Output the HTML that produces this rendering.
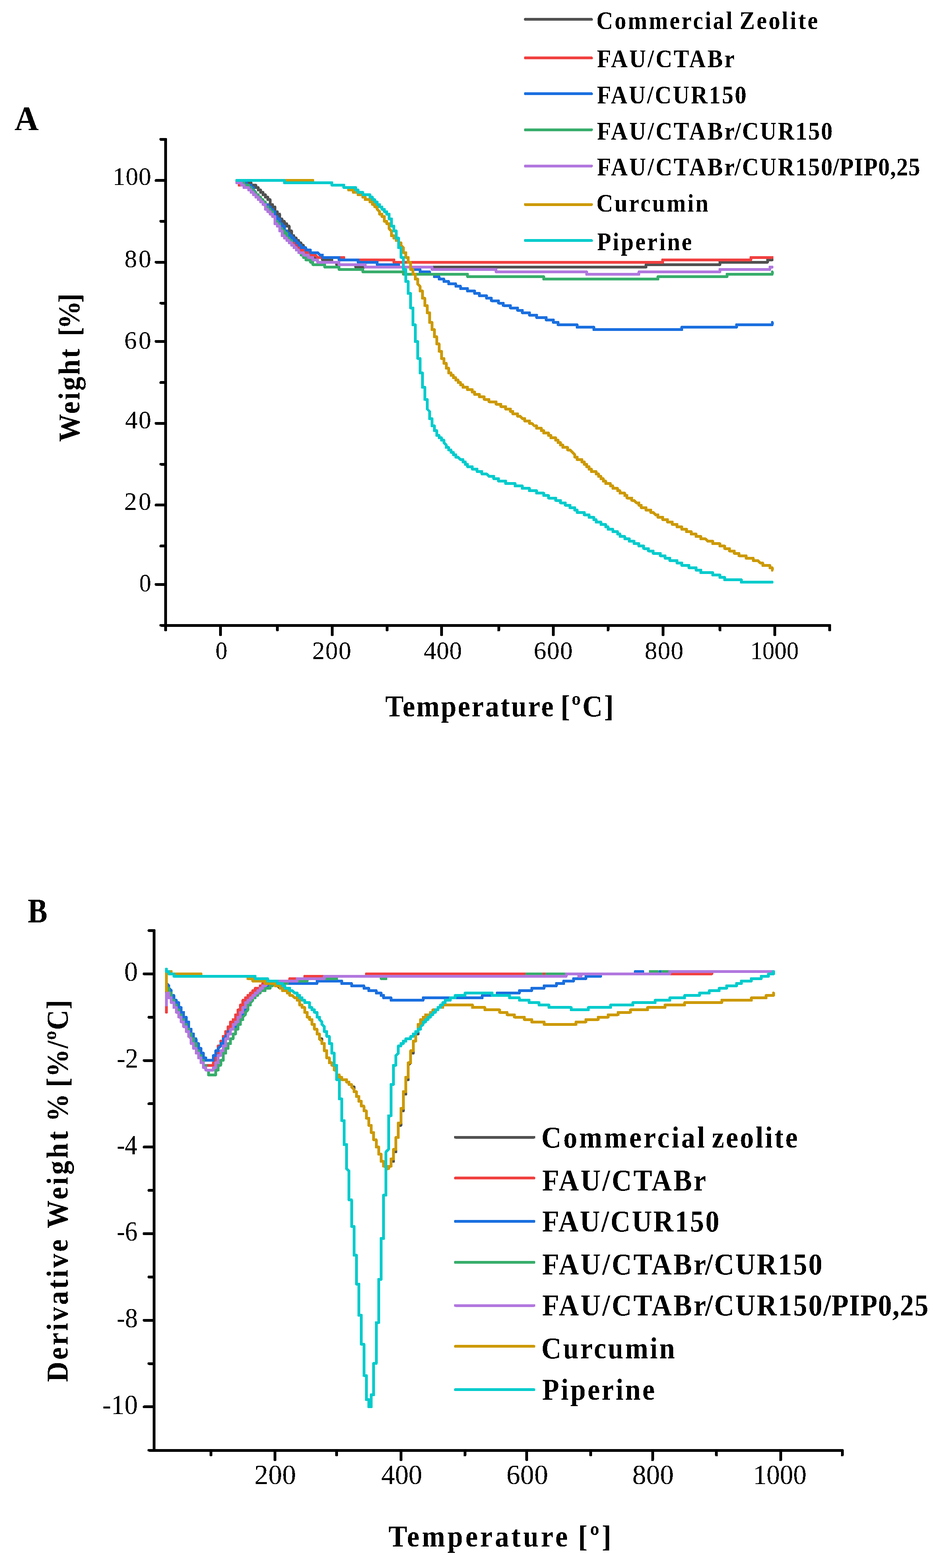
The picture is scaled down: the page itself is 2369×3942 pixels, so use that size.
<!DOCTYPE html>
<html><head><meta charset="utf-8"><title>TGA / DTG curves</title>
<style>html,body{margin:0;padding:0;background:#fff}svg{display:block}text{white-space:pre}</style></head>
<body><svg width="2369" height="3942" viewBox="0 0 2369 3942">
<rect width="2369" height="3942" fill="#fff"/>
<g stroke-width="7" stroke-linecap="round" fill="none" shape-rendering="crispEdges"><path d="M416.5 350.5L416.5 1572" stroke="#000"/><path d="M404.5 1572L2086.5 1572" stroke="#000"/><path d="M392.5 1469.4L416.5 1469.4" stroke="#000"/><path d="M404.5 1372.5L416.5 1372.5" stroke="#000"/><path d="M392.5 1269.6L416.5 1269.6" stroke="#000"/><path d="M404.5 1167L416.5 1167" stroke="#000"/><path d="M392.5 1064.2L416.5 1064.2" stroke="#000"/><path d="M404.5 961.5L416.5 961.5" stroke="#000"/><path d="M392.5 858.3L416.5 858.3" stroke="#000"/><path d="M404.5 762L416.5 762" stroke="#000"/><path d="M392.5 659.1L416.5 659.1" stroke="#000"/><path d="M404.5 556.4L416.5 556.4" stroke="#000"/><path d="M392.5 453.5L416.5 453.5" stroke="#000"/><path d="M404.5 350.4L416.5 350.4" stroke="#000"/><path d="M416.4 1572L416.4 1584" stroke="#000"/><path d="M554.3 1572L554.3 1596" stroke="#000"/><path d="M697.8 1572L697.8 1584" stroke="#000"/><path d="M835.7 1572L835.7 1596" stroke="#000"/><path d="M973.5 1572L973.5 1584" stroke="#000"/><path d="M1110.6 1572L1110.6 1596" stroke="#000"/><path d="M1254.1 1572L1254.1 1584" stroke="#000"/><path d="M1391.6 1572L1391.6 1596" stroke="#000"/><path d="M1529 1572L1529 1584" stroke="#000"/><path d="M1667.3 1572L1667.3 1596" stroke="#000"/><path d="M1810.9 1572L1810.9 1584" stroke="#000"/><path d="M1948.3 1572L1948.3 1596" stroke="#000"/><path d="M2086.5 1572L2086.5 1584" stroke="#000"/><path d="M387.7 2339.55L387.7 3646" stroke="#000"/><path d="M374.7 3646L2118.2 3646" stroke="#000"/><path d="M362.4 3536.9L387.7 3536.9" stroke="#000"/><path d="M374.7 3428.05L387.7 3428.05" stroke="#000"/><path d="M362.4 3319.2L387.7 3319.2" stroke="#000"/><path d="M374.7 3210.35L387.7 3210.35" stroke="#000"/><path d="M362.4 3101.5L387.7 3101.5" stroke="#000"/><path d="M374.7 2992.65L387.7 2992.65" stroke="#000"/><path d="M362.4 2883.8L387.7 2883.8" stroke="#000"/><path d="M374.7 2774.95L387.7 2774.95" stroke="#000"/><path d="M362.4 2666.1L387.7 2666.1" stroke="#000"/><path d="M374.7 2557.25L387.7 2557.25" stroke="#000"/><path d="M362.4 2448.4L387.7 2448.4" stroke="#000"/><path d="M374.7 2339.55L387.7 2339.55" stroke="#000"/><path d="M530.7 3646L530.7 3658" stroke="#000"/><path d="M691.6 3646L691.6 3670" stroke="#000"/><path d="M846.5 3646L846.5 3658" stroke="#000"/><path d="M1008.6 3646L1008.6 3670" stroke="#000"/><path d="M1169.1 3646L1169.1 3658" stroke="#000"/><path d="M1324.8 3646L1324.8 3670" stroke="#000"/><path d="M1485.7 3646L1485.7 3658" stroke="#000"/><path d="M1641 3646L1641 3670" stroke="#000"/><path d="M1801.9 3646L1801.9 3658" stroke="#000"/><path d="M1963.2 3646L1963.2 3670" stroke="#000"/><path d="M2118.2 3646L2118.2 3658" stroke="#000"/></g>
<g stroke-width="7" stroke-linecap="round" stroke-linejoin="round" fill="none" shape-rendering="crispEdges"><polyline points="595.4,453.5 595.4,459.5 631.3,459.5 631.3,465.6 643.3,465.6 643.3,471.6 649.3,471.6 649.3,477.7 655.2,477.7 655.2,483.7 661.2,483.7 661.2,489.8 667.2,489.8 667.2,495.8 673.2,495.8 673.2,501.9 679.2,501.9 679.2,514 685.2,514 685.2,520 691.2,520 691.2,532.1 697.1,532.1 697.1,538.2 703.1,538.2 703.1,550.3 709.1,550.3 709.1,556.3 715.1,556.3 715.1,562.4 721.1,562.4 721.1,568.4 727.1,568.4 727.1,580.5 733.1,580.5 733.1,592.6 739,592.6 739,598.7 745,598.7 745,604.7 751,604.7 751,610.8 757,610.8 757,616.8 763,616.8 763,622.9 769,622.9 769,628.9 775,628.9 775,635 780.9,635 780.9,641 786.9,641 786.9,647.1 810.9,647.1 810.9,653.1 834.8,653.1 834.8,659.2 846.8,659.2 846.8,665.2 894.6,665.2 894.6,671.3 1624.8,671.3 1624.8,665.2 1810.4,665.2 1810.4,659.2 1930.1,659.2 1930.1,653.1 1942,653.1" stroke="#515151"/>
<polyline points="595.4,453.5 595.4,459.5 601.4,459.5 601.4,465.6 613.4,465.6 613.4,471.6 625.3,471.6 625.3,477.7 631.3,477.7 661.2,507.9 667.2,507.9 667.2,520 673.2,520 673.2,526.1 679.2,526.1 679.2,532.1 685.2,532.1 685.2,538.2 691.2,538.2 691.2,556.3 697.1,556.3 697.1,562.4 703.1,562.4 703.1,574.5 709.1,574.5 709.1,580.5 715.1,580.5 715.1,592.6 721.1,592.6 727.1,598.7 733.1,598.7 733.1,604.7 739,604.7 739,610.8 745,610.8 745,616.8 751,616.8 751,622.9 757,622.9 757,628.9 769,628.9 769,635 780.9,635 780.9,641 792.9,641 798.9,647.1 864.7,647.1 864.7,653.1 990.4,653.1 990.4,659.2 1666.7,659.2 1666.7,653.1 1888.2,653.1 1888.2,647.1 1942,647.1" stroke="#F14040"/>
<polyline points="595.4,453.5 601.4,453.5 601.4,459.5 619.3,459.5 619.3,465.6 631.3,465.6 631.3,471.6 637.3,471.6 637.3,477.7 643.3,483.7 643.3,489.8 649.3,489.8 649.3,495.8 655.2,495.8 655.2,501.9 661.2,501.9 661.2,507.9 667.2,507.9 667.2,514 673.2,514 673.2,520 679.2,520 679.2,526.1 685.2,526.1 685.2,532.1 691.2,532.1 691.2,544.2 697.1,544.2 697.1,550.3 703.1,550.3 703.1,562.4 709.1,562.4 709.1,568.4 715.1,568.4 715.1,580.5 721.1,580.5 721.1,586.6 727.1,586.6 727.1,592.6 733.1,592.6 733.1,598.7 739,598.7 739,604.7 745,604.7 745,610.8 751,610.8 751,616.8 757,616.8 757,622.9 769,622.9 769,628.9 780.9,628.9 780.9,635 798.9,635 804.9,641 810.9,641 810.9,647.1 852.8,647.1 852.8,653.1 900.6,653.1 900.6,659.2 948.5,659.2 948.5,665.2 1002.4,665.2 1002.4,671.3 1038.3,671.3 1038.3,677.3 1056.2,677.3 1056.2,683.4 1080.2,683.4 1080.2,689.4 1092.2,689.4 1092.2,695.5 1104.1,695.5 1104.1,701.5 1116.1,701.5 1116.1,707.6 1128.1,707.6 1128.1,713.6 1146,713.6 1146,719.7 1158,719.7 1158,725.7 1175.9,725.7 1175.9,731.8 1193.9,731.8 1193.9,737.8 1205.9,737.8 1205.9,743.9 1223.8,743.9 1223.8,749.9 1235.8,749.9 1235.8,756 1253.8,756 1253.8,762 1265.7,762 1265.7,768 1283.7,768 1283.7,774.1 1301.6,774.1 1301.6,780.1 1313.6,780.1 1313.6,786.2 1331.6,786.2 1331.6,792.2 1349.5,792.2 1349.5,798.3 1373.5,798.3 1373.5,804.3 1391.4,804.3 1391.4,810.4 1403.4,810.4 1403.4,816.4 1451.3,816.4 1451.3,822.5 1493.2,822.5 1493.2,828.5 1714.6,828.5 1714.6,822.5 1852.2,822.5 1852.2,816.4 1942,816.4 1942,810.4" stroke="#1A6FDF"/>
<polyline points="595.4,453.5 601.4,453.5 601.4,459.5 613.4,459.5 613.4,465.6 625.3,465.6 625.3,471.6 631.3,471.6 631.3,477.7 637.3,477.7 637.3,483.7 643.3,483.7 643.3,489.8 649.3,489.8 649.3,495.8 655.2,495.8 655.2,501.9 661.2,501.9 661.2,507.9 667.2,507.9 667.2,520 673.2,520 673.2,526.1 679.2,526.1 679.2,532.1 685.2,532.1 685.2,544.2 691.2,544.2 691.2,556.3 697.1,556.3 697.1,562.4 703.1,562.4 703.1,574.5 709.1,574.5 709.1,580.5 715.1,580.5 715.1,586.6 721.1,586.6 721.1,598.7 727.1,598.7 727.1,604.7 733.1,604.7 733.1,616.8 739,616.8 739,622.9 745,622.9 745,628.9 751,628.9 751,635 757,635 757,641 763,641 763,647.1 769,647.1 769,653.1 780.9,653.1 780.9,659.2 786.9,659.2 786.9,665.2 816.8,665.2 816.8,671.3 852.8,671.3 852.8,677.3 912.6,677.3 912.6,683.4 1014.4,683.4 1014.4,689.4 1175.9,689.4 1175.9,695.5 1367.5,695.5 1367.5,701.5 1654.7,701.5 1654.7,695.5 1828.3,695.5 1828.3,689.4 1942,689.4 1942,683.4" stroke="#37AD6B"/>
<polyline points="595.4,459.5 607.4,459.5 607.4,465.6 613.4,465.6 613.4,471.6 625.3,471.6 625.3,477.7 631.3,477.7 631.3,483.7 637.3,483.7 637.3,489.8 643.3,489.8 643.3,495.8 649.3,495.8 649.3,501.9 655.2,501.9 655.2,507.9 661.2,507.9 661.2,514 667.2,514 667.2,526.1 673.2,526.1 673.2,532.1 679.2,532.1 679.2,538.2 685.2,538.2 685.2,544.2 691.2,544.2 691.2,562.4 697.1,562.4 697.1,568.4 703.1,568.4 703.1,580.5 709.1,580.5 709.1,592.6 715.1,592.6 715.1,598.7 721.1,598.7 721.1,604.7 727.1,604.7 727.1,610.8 733.1,610.8 733.1,616.8 739,616.8 739,622.9 745,622.9 745,628.9 751,628.9 751,635 763,635 763,641 775,641 775,647.1 786.9,647.1 786.9,653.1 798.9,653.1 798.9,659.2 852.8,659.2 852.8,665.2 918.6,665.2 918.6,671.3 1086.2,671.3 1086.2,677.3 1247.8,677.3 1247.8,683.4 1475.2,683.4 1475.2,689.4 1606.9,689.4 1606.9,683.4 1810.4,683.4 1810.4,677.3 1936,677.3 1936,671.3 1942,671.3" stroke="#B177DE"/>
<polyline points="595.4,453.5 786.9,453.5 786.9,459.5 834.8,459.5 834.8,465.6 864.7,465.6 864.7,471.6 876.7,471.6 876.7,477.7 888.7,477.7 888.7,483.7 900.6,483.7 900.6,489.8 912.6,489.8 912.6,495.8 918.6,495.8 918.6,501.9 930.6,501.9 930.6,507.9 936.5,507.9 936.5,514 942.5,514 942.5,520 948.5,520 948.5,526.1 954.5,532.1 954.5,538.2 960.5,538.2 960.5,544.2 966.5,544.2 966.5,556.3 972.5,556.3 972.5,562.4 978.4,562.4 978.4,574.5 984.4,580.5 984.4,592.6 990.4,592.6 990.4,598.7 996.4,598.7 996.4,604.7 1002.4,604.7 1002.4,610.8 1008.4,610.8 1008.4,616.8 1014.4,622.9 1014.4,635 1020.3,635 1020.3,647.1 1026.3,647.1 1026.3,659.2 1032.3,659.2 1032.3,677.3 1038.3,677.3 1038.3,689.4 1044.3,689.4 1044.3,701.5 1050.3,701.5 1050.3,713.6 1056.2,719.7 1056.2,731.8 1062.2,731.8 1062.2,749.9 1068.2,749.9 1068.2,768 1074.2,768 1074.2,786.2 1080.2,786.2 1080.2,810.4 1086.2,810.4 1086.2,828.5 1092.2,828.5 1092.2,846.7 1098.1,846.7 1098.1,864.8 1104.1,864.8 1104.1,883 1110.1,883 1110.1,901.1 1116.1,901.1 1116.1,913.2 1122.1,913.2 1122.1,925.3 1128.1,925.3 1128.1,937.4 1134,937.4 1134,943.5 1140,943.5 1140,949.5 1146,949.5 1146,955.6 1152,955.6 1152,961.6 1158,961.6 1158,967.7 1164,967.7 1164,973.7 1175.9,973.7 1175.9,979.8 1187.9,979.8 1187.9,985.8 1193.9,985.8 1193.9,991.9 1205.9,991.9 1205.9,997.9 1217.8,997.9 1217.8,1004 1229.8,1004 1229.8,1010 1247.8,1010 1247.8,1016.1 1259.7,1016.1 1259.7,1022.1 1271.7,1022.1 1271.7,1028.2 1283.7,1028.2 1283.7,1034.2 1289.7,1034.2 1289.7,1040.3 1301.6,1040.3 1301.6,1046.3 1307.6,1046.3 1313.6,1052.4 1319.6,1052.4 1319.6,1058.4 1331.6,1058.4 1331.6,1064.4 1337.5,1064.4 1343.5,1070.5 1349.5,1070.5 1349.5,1076.5 1361.5,1076.5 1361.5,1082.6 1367.5,1082.6 1367.5,1088.6 1379.4,1088.6 1379.4,1094.7 1385.4,1094.7 1385.4,1100.7 1397.4,1100.7 1397.4,1106.8 1403.4,1106.8 1403.4,1112.8 1409.4,1112.8 1409.4,1118.9 1415.3,1118.9 1415.3,1124.9 1427.3,1124.9 1427.3,1131 1433.3,1131 1445.3,1143.1 1445.3,1149.1 1451.3,1149.1 1451.3,1155.2 1463.2,1155.2 1463.2,1161.2 1469.2,1161.2 1469.2,1167.3 1475.2,1167.3 1475.2,1173.3 1481.2,1173.3 1481.2,1179.4 1487.2,1179.4 1487.2,1185.4 1499.1,1185.4 1499.1,1191.5 1505.1,1191.5 1505.1,1197.5 1511.1,1197.5 1511.1,1203.6 1517.1,1203.6 1517.1,1209.6 1523.1,1209.6 1523.1,1215.7 1535,1215.7 1535,1221.7 1541,1221.7 1541,1227.8 1553,1227.8 1553,1233.8 1559,1233.8 1559,1239.9 1571,1239.9 1571,1245.9 1576.9,1245.9 1576.9,1252 1588.9,1252 1588.9,1258 1594.9,1258 1600.9,1264.1 1606.9,1264.1 1606.9,1270.1 1612.8,1270.1 1612.8,1276.2 1624.8,1276.2 1624.8,1282.2 1636.8,1282.2 1636.8,1288.3 1642.8,1288.3 1648.8,1294.3 1654.7,1294.3 1654.7,1300.4 1666.7,1300.4 1666.7,1306.4 1678.7,1306.4 1678.7,1312.5 1690.7,1312.5 1690.7,1318.5 1702.6,1318.5 1702.6,1324.6 1714.6,1324.6 1714.6,1330.6 1726.6,1330.6 1726.6,1336.7 1738.5,1336.7 1738.5,1342.7 1750.5,1342.7 1750.5,1348.8 1762.5,1348.8 1762.5,1354.8 1774.4,1354.8 1780.4,1360.8 1792.4,1360.8 1792.4,1366.9 1810.4,1366.9 1810.4,1372.9 1822.3,1372.9 1822.3,1379 1834.3,1379 1834.3,1385 1846.3,1385 1846.3,1391.1 1858.2,1391.1 1858.2,1397.1 1876.2,1397.1 1876.2,1403.2 1894.1,1403.2 1894.1,1409.2 1906.1,1409.2 1912.1,1415.3 1918.1,1415.3 1918.1,1421.3 1936,1421.3 1936,1427.4 1942,1427.4 1942,1433.4" stroke="#CC9900"/>
<polyline points="595.4,453.5 715.1,453.5 715.1,459.5 834.8,459.5 834.8,465.6 864.7,465.6 864.7,471.6 894.6,471.6 894.6,477.7 900.6,477.7 900.6,483.7 912.6,483.7 912.6,489.8 930.6,489.8 930.6,495.8 936.5,495.8 936.5,501.9 942.5,501.9 942.5,507.9 948.5,507.9 948.5,514 954.5,514 954.5,520 960.5,520 960.5,526.1 966.5,526.1 966.5,532.1 972.5,532.1 972.5,538.2 978.4,538.2 978.4,550.3 984.4,550.3 984.4,568.4 990.4,568.4 990.4,580.5 996.4,580.5 996.4,598.7 1002.4,598.7 1002.4,622.9 1008.4,622.9 1008.4,647.1 1014.4,647.1 1014.4,677.3 1020.3,677.3 1020.3,707.6 1026.3,707.6 1026.3,737.8 1032.3,737.8 1032.3,774.1 1038.3,774.1 1038.3,816.4 1044.3,816.4 1044.3,858.8 1050.3,858.8 1050.3,901.1 1056.2,901.1 1056.2,937.4 1062.2,937.4 1062.2,973.7 1068.2,973.7 1068.2,1004 1074.2,1004 1074.2,1028.2 1080.2,1034.2 1080.2,1052.4 1086.2,1052.4 1086.2,1070.5 1092.2,1070.5 1092.2,1082.6 1098.1,1082.6 1098.1,1094.7 1104.1,1094.7 1104.1,1100.7 1110.1,1100.7 1110.1,1106.8 1116.1,1106.8 1116.1,1112.8 1122.1,1118.9 1122.1,1124.9 1128.1,1124.9 1128.1,1131 1134,1131 1134,1137 1140,1137 1140,1143.1 1146,1143.1 1146,1149.1 1152,1149.1 1158,1155.2 1164,1155.2 1164,1161.2 1170,1161.2 1170,1167.3 1175.9,1167.3 1175.9,1173.3 1187.9,1173.3 1187.9,1179.4 1199.9,1179.4 1199.9,1185.4 1211.9,1185.4 1211.9,1191.5 1223.8,1191.5 1229.8,1197.5 1241.8,1197.5 1241.8,1203.6 1253.8,1203.6 1253.8,1209.6 1271.7,1209.6 1271.7,1215.7 1295.6,1215.7 1295.6,1221.7 1313.6,1221.7 1313.6,1227.8 1331.6,1227.8 1331.6,1233.8 1349.5,1233.8 1349.5,1239.9 1367.5,1239.9 1367.5,1245.9 1379.4,1245.9 1379.4,1252 1397.4,1252 1397.4,1258 1409.4,1258 1409.4,1264.1 1421.3,1264.1 1421.3,1270.1 1433.3,1270.1 1433.3,1276.2 1445.3,1276.2 1445.3,1282.2 1451.3,1282.2 1451.3,1288.3 1469.2,1288.3 1469.2,1294.3 1481.2,1294.3 1481.2,1300.4 1493.2,1300.4 1493.2,1306.4 1499.1,1306.4 1499.1,1312.5 1511.1,1312.5 1511.1,1318.5 1523.1,1318.5 1523.1,1324.6 1529.1,1324.6 1529.1,1330.6 1541,1330.6 1541,1336.7 1553,1336.7 1553,1342.7 1559,1342.7 1559,1348.8 1571,1348.8 1571,1354.8 1582.9,1354.8 1582.9,1360.8 1594.9,1360.8 1594.9,1366.9 1606.9,1366.9 1606.9,1372.9 1618.8,1372.9 1618.8,1379 1630.8,1379 1630.8,1385 1642.8,1385 1642.8,1391.1 1660.7,1391.1 1660.7,1397.1 1672.7,1397.1 1672.7,1403.2 1684.7,1403.2 1684.7,1409.2 1702.6,1409.2 1702.6,1415.3 1714.6,1415.3 1714.6,1421.3 1732.6,1421.3 1732.6,1427.4 1750.5,1427.4 1750.5,1433.4 1762.5,1433.4 1762.5,1439.5 1792.4,1439.5 1792.4,1445.5 1810.4,1445.5 1810.4,1451.6 1822.3,1451.6 1822.3,1457.6 1864.2,1457.6 1864.2,1463.7 1942,1463.7" stroke="#00CBCC"/>
<polyline points="418.5,2496.6 418.5,2442.2 430.9,2442.2 430.9,2448.2 505.4,2448.2 505.4,2454.2 623.3,2454.2 623.3,2460.3 635.7,2460.3 635.7,2466.3 673,2466.3 673,2472.4 691.6,2472.4 691.6,2478.4 697.8,2478.4 704,2484.5 710.2,2484.5 710.2,2490.5 722.6,2490.5 722.6,2496.6 728.8,2496.6 728.8,2502.6 735,2502.6 741.2,2508.7 747.4,2508.7 747.4,2514.7 753.7,2514.7 753.7,2526.8 759.9,2526.8 759.9,2532.9 766.1,2532.9 766.1,2545 772.3,2545 772.3,2557 778.5,2557 778.5,2563.1 784.7,2563.1 784.7,2575.2 790.9,2575.2 790.9,2587.3 797.1,2587.3 797.1,2599.4 803.3,2599.4 803.3,2611.5 809.5,2611.5 809.5,2623.6 815.7,2623.6 815.7,2641.7 821.9,2641.7 821.9,2659.8 828.1,2659.8 828.1,2671.9 834.3,2671.9 834.3,2678 840.5,2678 840.5,2690.1 846.7,2690.1 846.7,2702.2 853,2702.2 853,2708.2 859.2,2708.2 859.2,2714.3 871.6,2714.3 871.6,2720.3 877.8,2720.3 877.8,2726.4 884,2726.4 884,2732.4 890.2,2732.4 890.2,2744.5 896.4,2744.5 896.4,2756.6 902.6,2756.6 902.6,2768.7 908.8,2768.7 908.8,2780.8 915,2780.8 915,2792.9 921.2,2792.9 921.2,2811 927.4,2811 927.4,2829.2 933.6,2829.2 933.6,2847.3 939.8,2847.3 939.8,2865.4 946.1,2865.4 946.1,2883.6 952.3,2883.6 952.3,2901.7 958.5,2901.7 958.5,2919.9 964.7,2919.9 964.7,2932 970.9,2932 970.9,2938 977.1,2938 977.1,2932 983.3,2932 983.3,2919.9 989.5,2919.9 989.5,2895.7 995.7,2895.7 995.7,2859.4 1001.9,2859.4 1001.9,2829.2 1008.1,2829.2 1008.1,2792.9 1014.3,2792.9 1014.3,2750.5 1020.5,2750.5 1020.5,2714.3 1026.7,2714.3 1026.7,2678 1032.9,2671.9 1032.9,2647.8 1039.2,2647.8 1039.2,2617.5 1045.4,2617.5 1045.4,2599.4 1051.6,2599.4 1051.6,2575.2 1057.8,2575.2 1057.8,2569.1 1064,2563.1 1064,2557 1076.4,2557 1076.4,2551 1082.6,2551 1082.6,2545 1088.8,2545 1095,2538.9 1101.2,2538.9 1101.2,2532.9 1113.6,2532.9 1113.6,2526.8 1188.1,2526.8 1188.1,2532.9 1219.1,2532.9 1219.1,2538.9 1256.4,2538.9 1256.4,2545 1275,2545 1275,2551 1293.6,2551 1293.6,2557 1318.4,2557 1318.4,2563.1 1337.1,2563.1 1337.1,2569.1 1368.1,2569.1 1368.1,2575.2 1448.8,2575.2 1448.8,2569.1 1473.6,2569.1 1473.6,2563.1 1504.6,2563.1 1504.6,2557 1529.5,2557 1529.5,2551 1554.3,2551 1554.3,2545 1585.3,2545 1585.3,2538.9 1628.8,2538.9 1628.8,2532.9 1672.2,2532.9 1672.2,2526.8 1721.9,2526.8 1721.9,2520.8 1815,2520.8 1815,2514.7 1889.4,2514.7 1889.4,2508.7 1926.7,2508.7 1926.7,2502.6 1945.3,2502.6 1945.3,2496.6" stroke="#515151"/>
<polyline points="418.5,2545 418.5,2502.6 430.9,2502.6 430.9,2520.8 437.1,2520.8 437.1,2532.9 443.3,2532.9 443.3,2545 449.5,2545 449.5,2551 455.7,2551 455.7,2563.1 461.9,2563.1 461.9,2575.2 468.2,2581.2 468.2,2593.3 474.4,2593.3 474.4,2605.4 480.6,2605.4 480.6,2617.5 486.8,2617.5 486.8,2629.6 493,2629.6 493,2647.8 499.2,2647.8 499.2,2659.8 505.4,2659.8 505.4,2671.9 511.6,2671.9 511.6,2678 536.4,2678 536.4,2671.9 542.6,2671.9 542.6,2653.8 548.8,2653.8 548.8,2629.6 555,2629.6 555,2617.5 561.2,2617.5 561.2,2605.4 567.5,2605.4 567.5,2593.3 573.7,2593.3 573.7,2581.2 579.9,2581.2 579.9,2569.1 586.1,2569.1 586.1,2563.1 592.3,2563.1 592.3,2551 598.5,2551 598.5,2538.9 604.7,2538.9 604.7,2526.8 610.9,2526.8 610.9,2514.7 617.1,2514.7 617.1,2508.7 623.3,2508.7 623.3,2502.6 629.5,2502.6 629.5,2496.6 635.7,2496.6 635.7,2490.5 641.9,2490.5 641.9,2484.5 654.3,2484.5 654.3,2478.4 660.6,2478.4 660.6,2472.4 673,2472.4 673,2466.3 728.8,2466.3 728.8,2460.3 766.1,2460.3 766.1,2454.2 921.2,2454.2 921.2,2448.2 1790.1,2448.2 1790.1,2442.2 1945.3,2442.2" stroke="#F14040"/>
<polyline points="418.5,2472.4 424.7,2478.4 424.7,2484.5 430.9,2490.5 430.9,2502.6 437.1,2502.6 437.1,2514.7 443.3,2514.7 443.3,2520.8 449.5,2520.8 449.5,2532.9 455.7,2532.9 455.7,2545 461.9,2545 461.9,2557 468.2,2557 468.2,2569.1 474.4,2569.1 474.4,2587.3 480.6,2587.3 480.6,2599.4 486.8,2599.4 486.8,2611.5 493,2611.5 493,2623.6 499.2,2623.6 499.2,2635.7 505.4,2635.7 505.4,2647.8 511.6,2647.8 511.6,2659.8 517.8,2659.8 517.8,2665.9 536.4,2665.9 536.4,2653.8 542.6,2653.8 542.6,2641.7 548.8,2641.7 548.8,2635.7 555,2629.6 555,2623.6 561.2,2623.6 561.2,2611.5 567.5,2611.5 567.5,2605.4 573.7,2599.4 573.7,2593.3 579.9,2593.3 579.9,2587.3 586.1,2587.3 586.1,2581.2 592.3,2581.2 592.3,2575.2 598.5,2575.2 598.5,2569.1 604.7,2569.1 604.7,2557 610.9,2557 610.9,2545 617.1,2545 617.1,2532.9 623.3,2532.9 623.3,2520.8 629.5,2520.8 629.5,2514.7 635.7,2514.7 635.7,2508.7 641.9,2508.7 641.9,2502.6 648.1,2502.6 648.1,2496.6 654.3,2496.6 654.3,2490.5 660.6,2490.5 660.6,2484.5 673,2484.5 673,2478.4 685.4,2478.4 691.6,2472.4 797.1,2472.4 797.1,2466.3 859.2,2466.3 859.2,2472.4 884,2472.4 884,2478.4 915,2478.4 915,2484.5 927.4,2484.5 927.4,2490.5 946.1,2490.5 946.1,2496.6 958.5,2496.6 958.5,2502.6 964.7,2502.6 964.7,2508.7 983.3,2508.7 983.3,2514.7 1064,2514.7 1064,2508.7 1212.9,2508.7 1212.9,2502.6 1250.2,2502.6 1250.2,2496.6 1306,2496.6 1306,2490.5 1337.1,2490.5 1337.1,2484.5 1368.1,2484.5 1368.1,2478.4 1399.1,2478.4 1399.1,2472.4 1417.7,2472.4 1417.7,2466.3 1442.6,2466.3 1442.6,2460.3 1473.6,2460.3 1473.6,2454.2 1510.8,2454.2 1510.8,2448.2 1597.7,2448.2 1597.7,2442.2 1616.4,2442.2 1616.4,2448.2 1659.8,2448.2 1659.8,2442.2 1945.3,2442.2" stroke="#1A6FDF"/>
<polyline points="418.5,2484.5 424.7,2484.5 424.7,2496.6 430.9,2496.6 430.9,2514.7 437.1,2514.7 437.1,2526.8 443.3,2526.8 443.3,2538.9 449.5,2538.9 449.5,2551 455.7,2551 455.7,2563.1 461.9,2563.1 461.9,2575.2 468.2,2575.2 468.2,2587.3 474.4,2587.3 474.4,2599.4 480.6,2599.4 480.6,2611.5 486.8,2611.5 486.8,2623.6 493,2623.6 493,2641.7 499.2,2641.7 499.2,2653.8 505.4,2653.8 505.4,2665.9 511.6,2665.9 511.6,2678 517.8,2678 517.8,2690.1 524,2690.1 524,2702.2 542.6,2702.2 542.6,2690.1 548.8,2690.1 548.8,2678 555,2678 555,2665.9 561.2,2665.9 561.2,2647.8 567.5,2647.8 567.5,2635.7 573.7,2635.7 573.7,2623.6 579.9,2623.6 579.9,2611.5 586.1,2611.5 586.1,2599.4 592.3,2599.4 592.3,2587.3 598.5,2587.3 598.5,2575.2 604.7,2575.2 604.7,2563.1 610.9,2563.1 610.9,2557 617.1,2551 617.1,2545 623.3,2538.9 623.3,2526.8 629.5,2526.8 629.5,2520.8 635.7,2514.7 635.7,2508.7 641.9,2508.7 641.9,2502.6 648.1,2502.6 648.1,2496.6 654.3,2496.6 654.3,2490.5 666.8,2490.5 666.8,2484.5 679.2,2484.5 679.2,2478.4 685.4,2478.4 685.4,2472.4 722.6,2472.4 722.6,2466.3 772.3,2466.3 772.3,2460.3 846.7,2460.3 846.7,2454.2 958.5,2454.2 958.5,2460.3 970.9,2460.3 970.9,2454.2 1324.6,2454.2 1324.6,2448.2 1361.9,2448.2 1361.9,2454.2 1374.3,2454.2 1374.3,2448.2 1635,2448.2 1635,2442.2 1653.6,2442.2 1653.6,2448.2 1666,2448.2 1666,2442.2 1945.3,2442.2" stroke="#37AD6B"/>
<polyline points="418.5,2526.8 418.5,2496.6 424.7,2496.6 424.7,2508.7 430.9,2508.7 430.9,2520.8 437.1,2520.8 437.1,2532.9 443.3,2532.9 443.3,2545 449.5,2545 449.5,2557 455.7,2557 455.7,2569.1 461.9,2569.1 461.9,2581.2 468.2,2581.2 468.2,2593.3 474.4,2593.3 474.4,2605.4 480.6,2611.5 480.6,2623.6 486.8,2623.6 486.8,2635.7 493,2635.7 493,2647.8 499.2,2647.8 499.2,2659.8 505.4,2659.8 505.4,2671.9 511.6,2671.9 511.6,2684 517.8,2684 517.8,2690.1 536.4,2690.1 536.4,2684 542.6,2684 542.6,2671.9 548.8,2671.9 548.8,2653.8 555,2653.8 555,2641.7 561.2,2641.7 561.2,2629.6 567.5,2629.6 567.5,2611.5 573.7,2611.5 573.7,2599.4 579.9,2599.4 579.9,2587.3 586.1,2587.3 586.1,2575.2 592.3,2575.2 592.3,2569.1 598.5,2569.1 598.5,2557 604.7,2557 604.7,2545 610.9,2545 610.9,2532.9 617.1,2532.9 617.1,2520.8 623.3,2520.8 623.3,2514.7 629.5,2514.7 629.5,2508.7 635.7,2508.7 635.7,2502.6 641.9,2502.6 641.9,2496.6 648.1,2496.6 648.1,2490.5 654.3,2490.5 654.3,2484.5 660.6,2484.5 660.6,2478.4 666.8,2478.4 673,2472.4 679.2,2472.4 685.4,2466.3 747.4,2466.3 747.4,2460.3 815.7,2460.3 815.7,2454.2 1424,2454.2 1424,2448.2 1455,2448.2 1455,2454.2 1461.2,2454.2 1461.2,2448.2 1684.6,2448.2 1684.6,2442.2 1945.3,2442.2" stroke="#B177DE"/>
<polyline points="418.5,2490.5 418.5,2442.2 430.9,2442.2 430.9,2448.2 505.4,2448.2 505.4,2454.2 623.3,2454.2 623.3,2460.3 635.7,2460.3 635.7,2466.3 666.8,2466.3 666.8,2472.4 691.6,2472.4 691.6,2478.4 704,2478.4 704,2484.5 710.2,2484.5 710.2,2490.5 722.6,2490.5 722.6,2496.6 728.8,2496.6 728.8,2502.6 735,2502.6 741.2,2508.7 747.4,2508.7 747.4,2514.7 753.7,2514.7 753.7,2526.8 759.9,2526.8 759.9,2532.9 766.1,2532.9 766.1,2545 772.3,2545 772.3,2557 778.5,2557 778.5,2563.1 784.7,2563.1 784.7,2575.2 790.9,2575.2 790.9,2587.3 797.1,2587.3 797.1,2599.4 803.3,2599.4 803.3,2611.5 809.5,2617.5 809.5,2623.6 815.7,2623.6 815.7,2641.7 821.9,2641.7 821.9,2659.8 828.1,2659.8 828.1,2671.9 834.3,2671.9 834.3,2678 840.5,2678 840.5,2690.1 846.7,2690.1 846.7,2702.2 853,2702.2 853,2708.2 859.2,2708.2 859.2,2714.3 871.6,2714.3 871.6,2720.3 877.8,2720.3 877.8,2726.4 884,2726.4 884,2732.4 890.2,2738.5 890.2,2744.5 896.4,2744.5 896.4,2756.6 902.6,2756.6 902.6,2768.7 908.8,2768.7 908.8,2780.8 915,2780.8 915,2792.9 921.2,2792.9 921.2,2811 927.4,2811 927.4,2829.2 933.6,2829.2 933.6,2847.3 939.8,2847.3 939.8,2865.4 946.1,2865.4 946.1,2883.6 952.3,2883.6 952.3,2901.7 958.5,2901.7 958.5,2919.9 964.7,2919.9 964.7,2932 970.9,2932 970.9,2938 977.1,2938 977.1,2932 983.3,2932 983.3,2913.8 989.5,2913.8 989.5,2889.6 995.7,2889.6 995.7,2859.4 1001.9,2859.4 1001.9,2823.1 1008.1,2823.1 1008.1,2786.8 1014.3,2786.8 1014.3,2744.5 1020.5,2744.5 1020.5,2708.2 1026.7,2708.2 1026.7,2671.9 1032.9,2671.9 1032.9,2641.7 1039.2,2641.7 1039.2,2617.5 1045.4,2617.5 1045.4,2593.3 1051.6,2593.3 1051.6,2575.2 1057.8,2575.2 1057.8,2563.1 1064,2563.1 1064,2557 1070.2,2557 1070.2,2551 1082.6,2551 1082.6,2545 1088.8,2545 1088.8,2538.9 1101.2,2538.9 1101.2,2532.9 1113.6,2532.9 1113.6,2526.8 1188.1,2526.8 1188.1,2532.9 1219.1,2532.9 1219.1,2538.9 1256.4,2538.9 1256.4,2545 1275,2545 1275,2551 1293.6,2551 1293.6,2557 1318.4,2557 1318.4,2563.1 1337.1,2563.1 1337.1,2569.1 1368.1,2569.1 1368.1,2575.2 1448.8,2575.2 1448.8,2569.1 1473.6,2569.1 1473.6,2563.1 1504.6,2563.1 1504.6,2557 1529.5,2557 1529.5,2551 1554.3,2551 1554.3,2545 1585.3,2545 1585.3,2538.9 1628.8,2538.9 1628.8,2532.9 1672.2,2532.9 1672.2,2526.8 1721.9,2526.8 1721.9,2520.8 1815,2520.8 1815,2514.7 1889.4,2514.7 1889.4,2508.7 1926.7,2508.7 1926.7,2502.6 1945.3,2502.6 1945.3,2496.6" stroke="#CC9900"/>
<polyline points="418.5,2436.1 418.5,2442.2 424.7,2442.2 424.7,2448.2 437.1,2448.2 437.1,2454.2 641.9,2454.2 641.9,2460.3 673,2460.3 673,2466.3 697.8,2466.3 697.8,2472.4 710.2,2472.4 710.2,2478.4 716.4,2478.4 716.4,2484.5 728.8,2484.5 728.8,2490.5 735,2490.5 741.2,2496.6 747.4,2496.6 747.4,2502.6 753.7,2502.6 753.7,2508.7 759.9,2508.7 759.9,2514.7 766.1,2514.7 766.1,2520.8 778.5,2520.8 778.5,2532.9 784.7,2532.9 784.7,2538.9 790.9,2538.9 790.9,2545 797.1,2545 797.1,2557 803.3,2557 803.3,2563.1 809.5,2569.1 809.5,2575.2 815.7,2581.2 815.7,2593.3 821.9,2593.3 821.9,2605.4 828.1,2605.4 828.1,2623.6 834.3,2623.6 834.3,2647.8 840.5,2647.8 840.5,2678 846.7,2678 846.7,2714.3 853,2714.3 853,2762.6 859.2,2762.6 859.2,2817.1 865.4,2817.1 865.4,2877.5 871.6,2877.5 871.6,2938 877.8,2944.1 877.8,3016.6 884,3016.6 884,3083.1 890.2,3083.1 890.2,3155.7 896.4,3155.7 896.4,3228.3 902.6,3228.3 902.6,3306.9 908.8,3306.9 908.8,3379.4 915,3379.4 915,3458 921.2,3458 921.2,3518.5 927.4,3518.5 927.4,3536.7 933.6,3536.7 933.6,3506.4 939.8,3506.4 939.8,3427.8 946.1,3427.8 946.1,3325 952.3,3325 952.3,3216.2 958.5,3216.2 958.5,3113.4 964.7,3113.4 964.7,3004.5 970.9,3004.5 970.9,2895.7 977.1,2889.6 977.1,2805 983.3,2805 983.3,2726.4 989.5,2726.4 989.5,2678 995.7,2678 995.7,2653.8 1001.9,2647.8 1001.9,2629.6 1008.1,2629.6 1008.1,2623.6 1014.3,2623.6 1014.3,2617.5 1020.5,2617.5 1020.5,2611.5 1032.9,2611.5 1032.9,2605.4 1039.2,2605.4 1039.2,2599.4 1045.4,2599.4 1045.4,2593.3 1051.6,2593.3 1051.6,2587.3 1057.8,2587.3 1057.8,2581.2 1064,2575.2 1064,2569.1 1070.2,2569.1 1070.2,2563.1 1076.4,2563.1 1076.4,2557 1082.6,2557 1082.6,2551 1088.8,2551 1088.8,2545 1095,2545 1095,2538.9 1101.2,2538.9 1101.2,2532.9 1107.4,2532.9 1107.4,2526.8 1113.6,2526.8 1113.6,2520.8 1119.8,2520.8 1119.8,2514.7 1132.2,2514.7 1132.2,2508.7 1144.7,2508.7 1144.7,2502.6 1169.5,2502.6 1169.5,2496.6 1237.8,2496.6 1237.8,2502.6 1281.2,2502.6 1281.2,2508.7 1306,2508.7 1306,2514.7 1330.9,2514.7 1330.9,2520.8 1355.7,2520.8 1355.7,2526.8 1380.5,2526.8 1380.5,2532.9 1436.4,2532.9 1436.4,2538.9 1479.8,2538.9 1479.8,2532.9 1535.7,2532.9 1535.7,2526.8 1591.5,2526.8 1591.5,2520.8 1647.4,2520.8 1647.4,2514.7 1684.6,2514.7 1684.6,2508.7 1721.9,2508.7 1721.9,2502.6 1759.1,2502.6 1759.1,2496.6 1783.9,2496.6 1783.9,2490.5 1808.8,2490.5 1808.8,2484.5 1827.4,2484.5 1827.4,2478.4 1852.2,2478.4 1852.2,2472.4 1864.6,2472.4 1864.6,2466.3 1889.4,2466.3 1889.4,2460.3 1914.3,2460.3 1914.3,2454.2 1932.9,2454.2 1932.9,2448.2 1945.3,2448.2 1945.3,2442.2" stroke="#00CBCC"/></g>
<g stroke-width="7" stroke-linecap="round" fill="none" shape-rendering="crispEdges"><path d="M1321 48.5L1487.5 48.5" stroke="#515151"/><path d="M1321 145.6L1487.5 145.6" stroke="#F14040"/><path d="M1321 235.6L1487.5 235.6" stroke="#1A6FDF"/><path d="M1321 326.4L1487.5 326.4" stroke="#37AD6B"/><path d="M1321 417.4L1487.5 417.4" stroke="#B177DE"/><path d="M1321 514.2L1487.5 514.2" stroke="#CC9900"/><path d="M1321 604.6L1487.5 604.6" stroke="#00CBCC"/><path d="M1145 2859L1343 2859" stroke="#515151"/><path d="M1145 2961.8L1343 2961.8" stroke="#F14040"/><path d="M1145 3070.7L1343 3070.7" stroke="#1A6FDF"/><path d="M1145 3173.3L1343 3173.3" stroke="#37AD6B"/><path d="M1145 3282L1343 3282" stroke="#B177DE"/><path d="M1145 3384.8L1343 3384.8" stroke="#CC9900"/><path d="M1145 3493.8L1343 3493.8" stroke="#00CBCC"/></g>
<defs><filter id="bw" x="0" y="0" width="2369" height="3942" filterUnits="userSpaceOnUse" color-interpolation-filters="sRGB"><feComponentTransfer><feFuncA type="discrete" tableValues="0 1"/></feComponentTransfer></filter></defs>
<g font-family="'Liberation Serif', serif" font-size="100" fill="#000" filter="url(#bw)"><text transform="matrix(0.8417 0 0 0.8779 36.40 327.40)" font-weight="bold"><tspan x="0.00">A</tspan></text>
<text transform="matrix(0.7381 0 0 0.8641 70.80 2319.30)" font-weight="bold"><tspan x="-1.00">B</tspan></text>
<text transform="matrix(0.5801 0 0 0.6305 1502.00 73.40)" font-weight="bold"><tspan x="-4.00" letter-spacing="7.20">Commercial </tspan><tspan x="616.59" letter-spacing="7.60">Zeolite</tspan></text>
<text transform="matrix(0.5801 0 0 0.6305 1502.00 169.00)" font-weight="bold"><tspan x="-1.00" letter-spacing="6.99">FAU/CTABr</tspan></text>
<text transform="matrix(0.5801 0 0 0.6305 1502.00 260.00)" font-weight="bold"><tspan x="-1.00" letter-spacing="6.11">FAU/CUR150</tspan></text>
<text transform="matrix(0.5801 0 0 0.6305 1502.00 351.20)" font-weight="bold"><tspan x="-1.00" letter-spacing="6.99">FAU/CTABr</tspan><tspan x="594.87" letter-spacing="5.13">/CUR150</tspan></text>
<text transform="matrix(0.5801 0 0 0.6305 1502.00 441.40)" font-weight="bold"><tspan x="-1.00" letter-spacing="6.99">FAU/CTABr</tspan><tspan x="594.87" letter-spacing="5.13">/CUR150</tspan><tspan x="1020.32" letter-spacing="2.16">/PIP0,25</tspan></text>
<text transform="matrix(0.5801 0 0 0.6305 1502.00 532.40)" font-weight="bold"><tspan x="-4.00" letter-spacing="6.92">Curcumin</tspan></text>
<text transform="matrix(0.5801 0 0 0.6305 1502.00 628.50)" font-weight="bold"><tspan x="-1.00" letter-spacing="7.20">Piperine</tspan></text>
<text transform="matrix(0.6967 0 0 0.7573 1364.20 2885.30)" font-weight="bold"><tspan x="-4.00" letter-spacing="7.16">Commercial </tspan><tspan x="611.63" letter-spacing="6.26">zeolite</tspan></text>
<text transform="matrix(0.6967 0 0 0.7573 1364.20 2992.90)" font-weight="bold"><tspan x="-1.00" letter-spacing="6.31">FAU/CTABr</tspan></text>
<text transform="matrix(0.6967 0 0 0.7573 1364.20 3095.90)" font-weight="bold"><tspan x="-1.00" letter-spacing="5.20">FAU/CUR150</tspan></text>
<text transform="matrix(0.6967 0 0 0.7573 1364.20 3203.80)" font-weight="bold"><tspan x="-1.00" letter-spacing="6.31">FAU/CTABr</tspan><tspan x="587.07" letter-spacing="4.81">/CUR150</tspan></text>
<text transform="matrix(0.6967 0 0 0.7573 1364.20 3307.00)" font-weight="bold"><tspan x="-1.00" letter-spacing="6.31">FAU/CTABr</tspan><tspan x="587.07" letter-spacing="4.81">/CUR150</tspan><tspan x="1013.67" letter-spacing="2.19">/PIP0,25</tspan></text>
<text transform="matrix(0.6967 0 0 0.7573 1364.20 3415.30)" font-weight="bold"><tspan x="-4.00" letter-spacing="6.40">Curcumin</tspan></text>
<text transform="matrix(0.6967 0 0 0.7573 1364.20 3518.80)" font-weight="bold"><tspan x="-1.00" letter-spacing="6.45">Piperine</tspan></text>
<text transform="matrix(0.7023 0 0 0.7634 969.50 1801.00)" font-weight="bold"><tspan x="-1.00" letter-spacing="4.75">Temperature </tspan><tspan x="627.35" letter-spacing="5.73">[ºC]</tspan></text>
<text transform="matrix(0.7023 0 0 0.7634 977.80 3888.40)" font-weight="bold"><tspan x="-1.00" letter-spacing="8.61">Temperature </tspan><tspan x="678.19" letter-spacing="9.32">[º]</tspan></text>
<text transform="matrix(0 -0.7023 0.7634 0 199.50 1110.00)" font-weight="bold"><tspan x="-1.00" letter-spacing="5.53">Weight </tspan><tspan x="376.74" letter-spacing="-6.66">[%]</tspan></text>
<text transform="matrix(0 -0.7023 0.7634 0 170.00 3473.30)" font-weight="bold"><tspan x="-1.00" letter-spacing="7.32">Derivative </tspan><tspan x="549.06" letter-spacing="8.24">Weight </tspan><tspan x="930.49">% </tspan><tspan x="1054.53" letter-spacing="2.43">[%/ºC]</tspan></text>
<text transform="matrix(0.5977 0 0 0.6333 352.00 1487.20)"><tspan x="-3.00">0</tspan></text>
<text transform="matrix(0.6333 0 0 0.6333 315.00 1281.90)"><tspan x="-4.00" letter-spacing="6.95">20</tspan></text>
<text transform="matrix(0.6333 0 0 0.6333 315.00 1076.60)"><tspan x="-1.00" letter-spacing="3.95">40</tspan></text>
<text transform="matrix(0.6333 0 0 0.6333 315.00 876.60)"><tspan x="-4.00" letter-spacing="6.95">60</tspan></text>
<text transform="matrix(0.6333 0 0 0.6333 315.00 671.50)"><tspan x="-3.00" letter-spacing="5.95">80</tspan></text>
<text transform="matrix(0.6333 0 0 0.6333 288.30 465.40)"><tspan x="-8.00" letter-spacing="1.55">100</tspan></text>
<text transform="matrix(0.5977 0 0 0.6333 543.85 1656.80)"><tspan x="-3.00">0</tspan></text>
<text transform="matrix(0.6333 0 0 0.6333 787.75 1656.80)"><tspan x="-4.00" letter-spacing="2.32">200</tspan></text>
<text transform="matrix(0.6333 0 0 0.6333 1066.25 1656.80)"><tspan x="-1.00" letter-spacing="0.82">400</tspan></text>
<text transform="matrix(0.6333 0 0 0.6333 1344.85 1656.80)"><tspan x="-4.00" letter-spacing="2.32">600</tspan></text>
<text transform="matrix(0.6333 0 0 0.6333 1623.25 1656.80)"><tspan x="-3.00" letter-spacing="1.82">800</tspan></text>
<text transform="matrix(0.6085 0 0 0.6333 1891.80 1656.80)"><tspan x="-8.00">1000</tspan></text>
<text transform="matrix(0.6818 0 0 0.6924 314.60 2466.20)"><tspan x="-3.00">0</tspan></text>
<text transform="matrix(0.6574 0 0 0.6924 295.10 2683.88)"><tspan x="-3.00">-2</tspan></text>
<text transform="matrix(0.6242 0 0 0.6924 295.10 2901.56)"><tspan x="-3.00">-4</tspan></text>
<text transform="matrix(0.6322 0 0 0.6924 295.10 3119.24)"><tspan x="-3.00">-6</tspan></text>
<text transform="matrix(0.6404 0 0 0.6924 295.10 3336.92)"><tspan x="-3.00">-8</tspan></text>
<text transform="matrix(0.6709 0 0 0.6924 259.20 3554.60)"><tspan x="-3.00">-10</tspan></text>
<text transform="matrix(0.6924 0 0 0.6924 642.40 3730.80)"><tspan x="-4.00" letter-spacing="0.71">200</tspan></text>
<text transform="matrix(0.6849 0 0 0.6924 959.60 3730.80)"><tspan x="-1.00">400</tspan></text>
<text transform="matrix(0.6924 0 0 0.6924 1276.20 3730.80)"><tspan x="-4.00" letter-spacing="0.71">600</tspan></text>
<text transform="matrix(0.6924 0 0 0.6924 1592.40 3730.80)"><tspan x="-3.00" letter-spacing="0.21">800</tspan></text>
<text transform="matrix(0.6698 0 0 0.6924 1899.70 3730.80)"><tspan x="-8.00">1000</tspan></text></g>
</svg></body></html>
